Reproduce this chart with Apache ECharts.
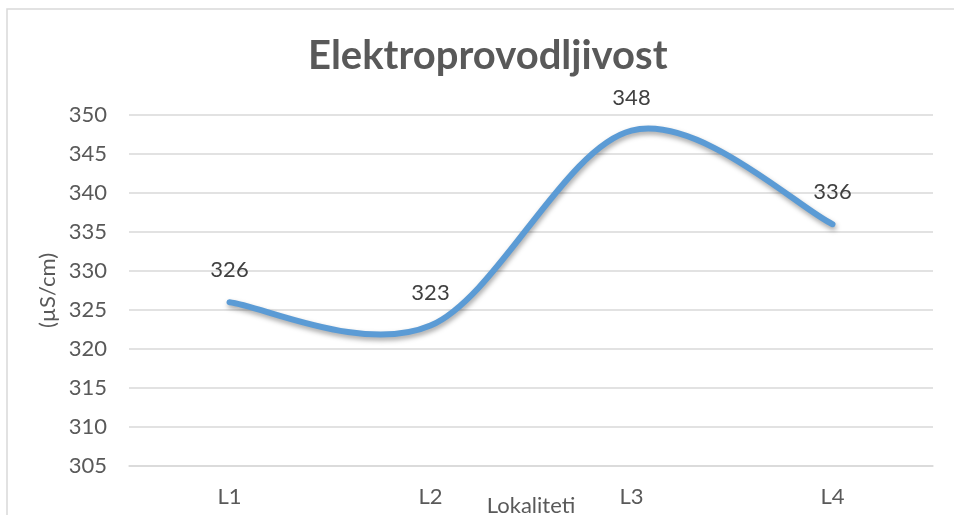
<!DOCTYPE html>
<html>
<head>
<meta charset="utf-8">
<script src="https://cdn.jsdelivr.net/npm/echarts@6/dist/echarts.min.js"></script>
<style>
  html, body { margin: 0; padding: 0; background: #fff; }
  #container { width: 954px; height: 515px; }
</style>
</head>
<body>
<div id="container"></div>
<script>
var dom = document.getElementById('container');
var myChart = echarts.init(dom);

// podaci
let categories = ['L1', 'L2', 'L3', 'L4'];
let values = [326, 323, 348, 336];
let yMin = 305;
let yMax = 350;
let yStep = 5;

let font = 'Lato, "Open Sans", sans-serif';
let lineColor = '#5B9BD5';

// Excel-like smooth line: cubic bezier, control points from neighbours (1/6 rule)
function renderCurve(params, api) {
    if (params.dataIndex !== 0) return null;
    let pts = values.map(function (v, i) { return api.coord([i, v]); });
    let n = pts.length;
    let d = 'M' + pts[0][0] + ' ' + pts[0][1];
    for (let i = 0; i < n - 1; i++) {
        let p0 = pts[Math.max(i - 1, 0)];
        let p1 = pts[i];
        let p2 = pts[i + 1];
        let p3 = pts[Math.min(i + 2, n - 1)];
        let c1x = p1[0] + (p2[0] - p0[0]) / 6;
        let c1y = p1[1] + (p2[1] - p0[1]) / 6;
        let c2x = p2[0] - (p3[0] - p1[0]) / 6;
        let c2y = p2[1] - (p3[1] - p1[1]) / 6;
        d += ' C' + c1x + ' ' + c1y + ' ' + c2x + ' ' + c2y + ' ' + p2[0] + ' ' + p2[1];
    }
    return {
        type: 'path',
        shape: { pathData: d },
        style: {
            fill: 'none',
            stroke: lineColor,
            lineWidth: 6,
            lineCap: 'round',
            lineJoin: 'round',
            shadowColor: 'rgba(0,0,0,0.35)',
            shadowBlur: 5,
            shadowOffsetX: 1,
            shadowOffsetY: 3
        }
    };
}

option = {
    backgroundColor: '#ffffff',
    title: {
        text: 'Elektroprovodljivost',
        left: 308,
        top: 36,
        padding: 0,
        textStyle: {
            color: '#595959',
            fontFamily: font,
            fontWeight: 'bold',
            fontSize: 40
        }
    },
    graphic: [{
        type: 'rect',
        silent: true,
        shape: { x: 7, y: 9, width: 1000, height: 1000 },
        style: { fill: 'none', stroke: '#d9d9d9', lineWidth: 1.5 }
    }],
    grid: {
        left: 129,
        right: 21,
        top: 115,
        bottom: 49,
        outerBoundsMode: 'none'
    },
    xAxis: {
        type: 'category',
        data: categories,
        boundaryGap: true,
        name: 'Lokaliteti',
        nameLocation: 'middle',
        nameGap: 29,
        nameMoveOverlap: false,
        nameTextStyle: {
            color: '#595959',
            fontFamily: font,
            fontSize: 22
        },
        axisLine: {
            show: true,
            lineStyle: { color: '#d9d9d9', width: 1.5 }
        },
        axisTick: { show: false },
        axisLabel: {
            color: '#595959',
            fontFamily: font,
            fontSize: 22,
            margin: 20
        }
    },
    yAxis: {
        type: 'value',
        min: yMin,
        max: yMax,
        interval: yStep,
        name: '(µS/cm)',
        nameLocation: 'middle',
        nameGap: 70,
        nameMoveOverlap: false,
        nameTextStyle: {
            color: '#595959',
            fontFamily: font,
            fontSize: 22
        },
        axisLine: { show: false },
        axisTick: { show: false },
        axisLabel: {
            color: '#595959',
            fontFamily: font,
            fontSize: 22,
            margin: 22
        },
        splitLine: {
            lineStyle: { color: '#d9d9d9', width: 1.5 }
        }
    },
    series: [{
        name: 'Elektroprovodljivost',
        type: 'custom',
        coordinateSystem: 'cartesian2d',
        renderItem: renderCurve,
        data: values.map(function (v, i) { return [i, v]; }),
        silent: true,
        z: 2
    }, {
        name: 'oznake',
        type: 'line',
        data: values,
        symbol: 'circle',
        symbolSize: 1,
        itemStyle: { color: lineColor },
        lineStyle: { opacity: 0 },
        label: {
            show: true,
            position: 'top',
            distance: 21,
            color: '#404040',
            fontFamily: font,
            fontSize: 22
        },
        emphasis: { disabled: true },
        z: 3
    }]
};
myChart.setOption(option);

window.addEventListener('resize', function () {
    myChart.resize();
});
</script>
</body>
</html>
